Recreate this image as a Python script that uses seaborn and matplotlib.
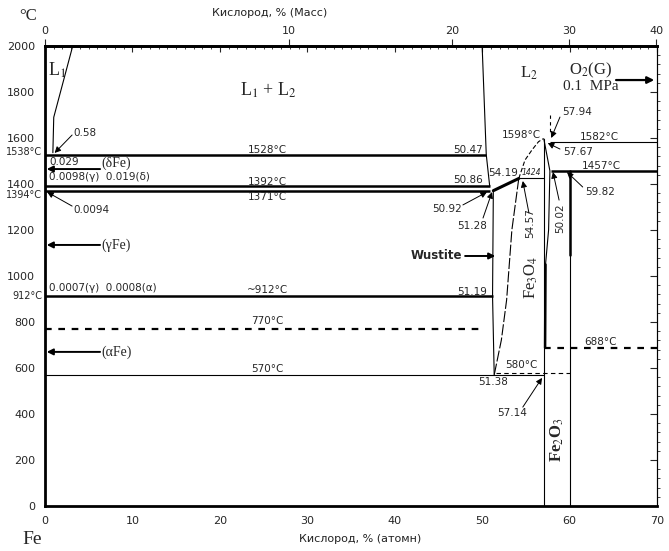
import numpy as np
import pandas as pd
import matplotlib
matplotlib.use("Agg")
import matplotlib.pyplot as plt
import seaborn as sns
from matplotlib.ticker import MultipleLocator, FixedLocator

# Fe-O phase diagram (Кислород, % атомн. vs °C)

# isotherms: temperature, start and end composition (at.% O)
thick_T = [1528, 1392, 1371, 912, 1457]
thick_x0 = [0, 0, 0, 0, 57.9]
thick_x1 = [50.47, 50.86, 50.86, 51.19, 70]

thin_T = [570, 1582, 1424]
thin_x0 = [0, 57.75, 54.19]
thin_x1 = [57.05, 70, 57.05]

dash_T = [770, 688]
dash_x0 = [0, 57.05]
dash_x1 = [50.3, 70]

fine_dash_T = [580]
fine_dash_x0 = [51.6]
fine_dash_x1 = [60]

# phase boundaries
l1_x = [0.9, 1.0, 3.17]
l1_T = [1536, 1690, 2000]

l2_x = [50.0, 50.47, 50.86]
l2_T = [2000, 1528, 1392]

wust_left_x = [51.28, 51.19, 51.38]
wust_left_T = [1371, 912, 570]

wust_right_x = [54.19, 53.4, 52.8, 52.2, 51.38]
wust_right_T = [1424, 1200, 896, 722, 570]

wust_sol_x = [51.28, 54.19]
wust_sol_T = [1371, 1424]

mag_liq_x = [54.19, 54.9, 55.7, 56.45, 57.0]
mag_liq_T = [1424, 1504, 1548, 1584, 1597]

mag_left_x = [57.05, 57.05]
mag_left_T = [1597, 0]

mag_right_x = [57.05, 57.75, 57.6, 57.25]
mag_right_T = [1597, 1457, 1200, 1050]

mag_right_low_x = [57.25, 57.2]
mag_right_low_T = [1050, 688]

hem_thick_x = [60.0, 60.0]
hem_thick_T = [1457, 1090]
hem_thin_x = [60.0, 60.0]
hem_thin_T = [1090, 0]

gas_x = [57.8, 57.8]
gas_T = [1700, 1622]

sns.set_style("white")
plt.rcParams['font.family'] = ['DejaVu Sans']
plt.rcParams['mathtext.fontset'] = 'stix'

fig = plt.figure(figsize=(6.69, 5.51), dpi=100)
ax = fig.add_axes([45 / 669, 45 / 551, 612 / 669, 460 / 551])


def curve(xs, ts, lw=0.8, ls='-'):
    df = pd.DataFrame({'x': xs, 'T': ts})
    sns.lineplot(data=df, x='x', y='T', sort=False, estimator=None,
                 color='black', lw=lw, linestyle=ls, ax=ax)


ax.hlines(thick_T, thick_x0, thick_x1, color='black', lw=1.8)
ax.hlines(thin_T, thin_x0, thin_x1, color='black', lw=0.8)
ax.hlines(dash_T, dash_x0, dash_x1, color='black', lw=1.6, linestyles=(0, (3, 3)))
ax.hlines(fine_dash_T, fine_dash_x0, fine_dash_x1, color='black', lw=0.8,
          linestyles=(0, (4, 3)))

curve(l1_x, l1_T)
curve(l2_x, l2_T)
curve(wust_left_x, wust_left_T)
curve(wust_right_x, wust_right_T, ls=(0, (10, 2)))
curve(wust_sol_x, wust_sol_T, lw=2.2)
curve(mag_liq_x, mag_liq_T, ls=(0, (4, 2)))
curve(mag_left_x, mag_left_T)
curve(mag_right_x, mag_right_T)
curve(mag_right_low_x, mag_right_low_T, lw=1.8)
curve(hem_thick_x, hem_thick_T, lw=1.8)
curve(hem_thin_x, hem_thin_T)
curve(gas_x, gas_T, ls=(0, (3, 3)))

ax.set_xlim(0, 70)
ax.set_ylim(0, 2000)
ax.set_xlabel('')
ax.set_ylabel('')
ax.xaxis.set_major_locator(MultipleLocator(10))
ax.xaxis.set_minor_locator(MultipleLocator(1))
ax.yaxis.set_major_locator(MultipleLocator(200))
ax.yaxis.set_minor_locator(MultipleLocator(20))
ax.tick_params(which='major', direction='out', length=5, width=1, labelsize=8, pad=2)
ax.tick_params(which='minor', direction='out', length=2, width=0.8)
for s in ['left', 'bottom', 'top']:
    ax.spines[s].set_linewidth(2)
ax.spines['right'].set_linewidth(0.8)
for s in ax.spines.values():
    s.set_color('black')

# top: inner at.% ticks
top_at = ax.secondary_xaxis('top')
top_at.xaxis.set_major_locator(MultipleLocator(10))
top_at.xaxis.set_minor_locator(MultipleLocator(1))
top_at.tick_params(which='both', direction='in', labeltop=False)
top_at.tick_params(which='major', length=4)
top_at.tick_params(which='minor', length=2)
top_at.spines['top'].set_linewidth(2)


# top: mass % scale
def at_to_wt(a):
    a = np.asarray(a, dtype=float)
    return 100 * 16 * a / (16 * a + 55.845 * (100 - a))


def wt_to_at(w):
    w = np.asarray(w, dtype=float)
    return 100 * (w / 16) / (w / 16 + (100 - w) / 55.845)


top_wt = ax.secondary_xaxis('top', functions=(at_to_wt, wt_to_at))
top_wt.xaxis.set_major_locator(FixedLocator([0, 10, 20, 30, 40]))
top_wt.tick_params(which='major', direction='out', length=5, labelsize=8, pad=2)
top_wt.tick_params(which='minor', length=0)
top_wt.spines['top'].set_linewidth(2)

# right ticks
right = ax.secondary_yaxis('right')
right.yaxis.set_major_locator(MultipleLocator(200))
right.yaxis.set_minor_locator(MultipleLocator(40))
right.tick_params(which='major', direction='in', length=5, labelright=False)
right.tick_params(which='minor', direction='out', length=2)
right.spines['right'].set_linewidth(0.8)

serif = 'Liberation Serif'

# region labels
ax.text(0.35, 1896, 'L$_1$', family=serif, fontsize=13, ha='left', va='center')
ax.text(25.5, 1809, 'L$_1$ + L$_2$', family=serif, fontsize=13, ha='center', va='center')
ax.text(55.4, 1883, 'L$_2$', family=serif, fontsize=12, ha='center', va='center')
ax.text(62.45, 1896, 'O$_2$(G)', family=serif, fontsize=12, ha='center', va='center')
ax.text(62.45, 1822, '0.1  MPa', family=serif, fontsize=11, ha='center', va='center')
ax.annotate('', xy=(70.0, 1852), xytext=(65.0, 1852),
            arrowprops=dict(arrowstyle='-|>', lw=1.6, color='black', mutation_scale=10))

# isotherm labels
small = 7.5
for txt, T in [('1528°C', 1548), ('1392°C', 1409), ('1371°C', 1343),
               ('~912°C', 939), ('770°C', 804), ('570°C', 596)]:
    ax.text(25.4, T, txt, fontsize=small, ha='center', va='center')

ax.text(50.1, 1548, '50.47', fontsize=small, ha='right', va='center')
ax.text(50.1, 1417, '50.86', fontsize=small, ha='right', va='center')
ax.text(50.55, 930, '51.19', fontsize=small, ha='right', va='center')
ax.text(54.1, 1448, '54.19', fontsize=small, ha='right', va='center')
ax.text(54.5, 1448, '1424', fontsize=5.5, style='italic', ha='left', va='center')
ax.text(56.75, 1613, '1598°C', fontsize=small, ha='right', va='center')
ax.text(59.15, 1713, '57.94', fontsize=small, ha='left', va='center')
ax.text(59.25, 1539, '57.67', fontsize=small, ha='left', va='center')
ax.text(63.4, 1604, '1582°C', fontsize=small, ha='center', va='center')
ax.text(63.6, 1478, '1457°C', fontsize=small, ha='center', va='center')
ax.text(61.8, 1365, '59.82', fontsize=small, ha='left', va='center')
ax.text(55.45, 1230, '54.57', fontsize=small, ha='center', va='center', rotation=90)
ax.text(58.9, 1252, '50.02', fontsize=small, ha='center', va='center', rotation=90)
ax.text(47.7, 1291, '50.92', fontsize=small, ha='right', va='center')
ax.text(48.85, 1217, '51.28', fontsize=small, ha='center', va='center')
ax.text(47.7, 1087, 'Wustite', fontsize=8.5, fontweight='bold', ha='right', va='center')
ax.text(55.6, 996, 'Fe$_3$O$_4$', family=serif, fontsize=12, ha='center', va='center',
        rotation=90)
ax.text(58.55, 287, 'Fe$_2$O$_3$', family=serif, fontsize=12, fontweight='bold',
        ha='center', va='center', rotation=90)
ax.text(53.4, 404, '57.14', fontsize=small, ha='center', va='center')
ax.text(51.25, 539, '51.38', fontsize=small, ha='center', va='center')
ax.text(54.45, 613, '580°C', fontsize=small, ha='center', va='center')
ax.text(63.5, 713, '688°C', fontsize=small, ha='center', va='center')

# left side labels
ax.text(4.6, 1622, '0.58', fontsize=small, ha='center', va='center')
ax.text(0.45, 1496, '0.029', fontsize=small, ha='left', va='center')
ax.text(6.5, 1491, '(δFe)', family=serif, fontsize=10, ha='left', va='center')
ax.text(0.45, 1430, '0.0098(γ)  0.019(δ)', fontsize=small, ha='left', va='center')
ax.text(3.2, 1287, '0.0094', fontsize=small, ha='left', va='center')
ax.text(6.5, 1135, '(γFe)', family=serif, fontsize=10, ha='left', va='center')
ax.text(0.45, 948, '0.0007(γ)  0.0008(α)', fontsize=small, ha='left', va='center')
ax.text(6.5, 670, '(αFe)', family=serif, fontsize=10, ha='left', va='center')

# labels outside the left axis
for txt, T in [('1538°C', 1540), ('1394°C', 1352), ('912°C', 913)]:
    ax.text(-0.35, T, txt, fontsize=7, ha='right', va='center', clip_on=False)

# thin arrows: start -> target
thin_arrows = [
    ((58.9, 1691), (57.9, 1600)),
    ((58.9, 1552), (57.5, 1578)),
    ((61.5, 1387), (59.7, 1452)),
    ((55.35, 1274), (54.65, 1413)),
    ((58.8, 1330), (58.1, 1452)),
    ((47.8, 1309), (50.55, 1365)),
    ((50.1, 1252), (51.13, 1365)),
    ((54.65, 430), (56.85, 557)),
    ((3.1, 1613), (1.1, 1535)),
    ((3.1, 1304), (0.25, 1365)),
]
for (x0, y0), (x1, y1) in thin_arrows:
    ax.annotate('', xy=(x1, y1), xytext=(x0, y0),
                arrowprops=dict(arrowstyle='-|>', lw=0.7, color='black',
                                mutation_scale=9, shrinkA=0, shrinkB=0))

# bold arrows to phase fields
bold_arrows = [
    ((6.3, 1465), (0.2, 1465)),
    ((6.3, 1135), (0.2, 1135)),
    ((6.3, 670), (0.2, 670)),
    ((48.05, 1087), (51.5, 1087)),
]
for (x0, y0), (x1, y1) in bold_arrows:
    ax.annotate('', xy=(x1, y1), xytext=(x0, y0),
                arrowprops=dict(arrowstyle='-|>', lw=1.4, color='black',
                                mutation_scale=9, shrinkA=0, shrinkB=0))

fig.text(28 / 669, 1 - 16 / 551, '°C', family=serif, fontsize=12, ha='center', va='center')
fig.text(32 / 669, 1 - 540 / 551, 'Fe', family=serif, fontsize=14, ha='center', va='center')
fig.text(270 / 669, 1 - 13 / 551, 'Кислород, % (Масс)', fontsize=8, color='#222222',
         ha='center', va='center')
fig.text(360 / 669, 1 - 539 / 551, 'Кислород, % (атомн)', fontsize=8, color='#222222',
         ha='center', va='center')

fig.savefig('out.png', dpi=100)
